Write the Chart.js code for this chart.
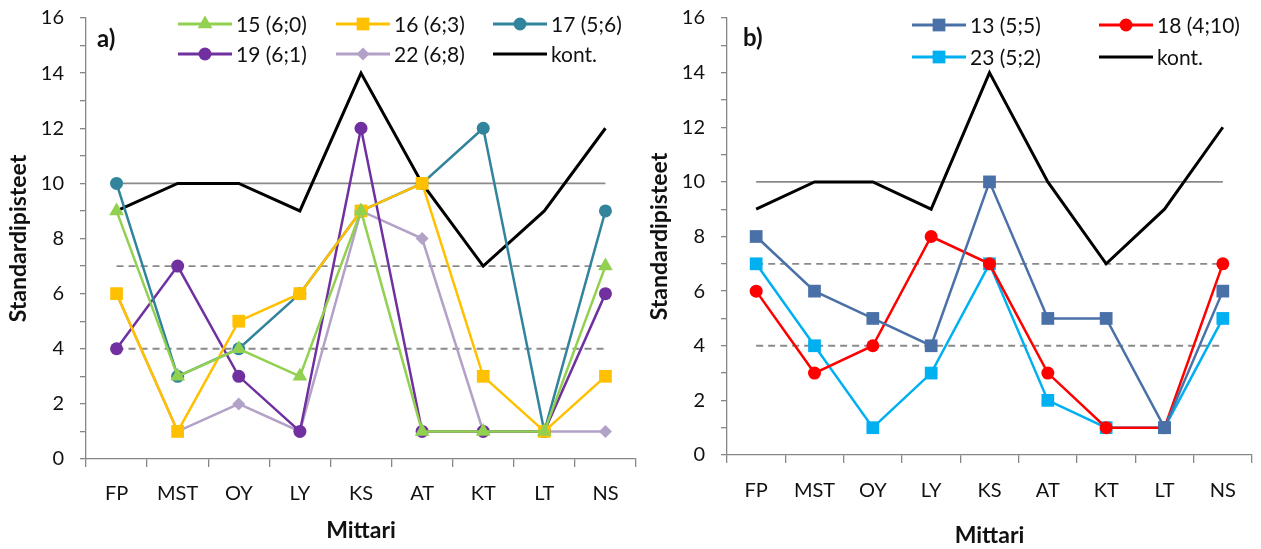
<!DOCTYPE html>
<html>
<head>
<meta charset="utf-8">
<script src="https://cdn.jsdelivr.net/npm/chart.js@4"></script>
<style>
  body { margin: 0; background: #fff; width: 1261px; height: 549px; position: relative; overflow: hidden; }
  .box { position: absolute; top: 0; height: 549px; }
</style>
</head>
<body>
<div class="box" style="left:0;width:645px"><canvas id="chartA" width="645" height="549"></canvas></div>
<div class="box" style="left:640px;width:621px"><canvas id="chartB" width="621" height="549"></canvas></div>
<script>
// mittarit (x-akseli)
const mittarit = ['FP', 'MST', 'OY', 'LY', 'KS', 'AT', 'KT', 'LT', 'NS'];

// kontrolliryhmä
const kont = [9, 10, 10, 9, 14, 10, 7, 9, 12];

// a) lapset
const s15 = [9, 3, 4, 3, 9, 1, 1, 1, 7];
const s16 = [6, 1, 5, 6, 9, 10, 3, 1, 3];
const s17 = [10, 3, 4, 6, 9, 10, 12, 1, 9];
const s19 = [4, 7, 3, 1, 12, 1, 1, 1, 6];
const s22 = [6, 1, 2, 1, 9, 8, 1, 1, 1];

// b) lapset
const s13 = [8, 6, 5, 4, 10, 5, 5, 1, 6];
const s18 = [6, 3, 4, 8, 7, 3, 1, 1, 7];
const s23 = [7, 4, 1, 3, 7, 2, 1, 1, 5];

// viiteviivat
const raja10 = [10, 10, 10, 10, 10, 10, 10, 10, 10];
const raja7 = [7, 7, 7, 7, 7, 7, 7, 7, 7];
const raja4 = [4, 4, 4, 4, 4, 4, 4, 4, 4];

const yTicks = [0, 2, 4, 6, 8, 10, 12, 14, 16];

const FONT = 'Lato';
const TXT = '#111';
const AXIS = '#868686';

// sama muoto kuin Chart.js:n pisteissä
function marker(ctx, style, x, y, r, color) {
  ctx.fillStyle = color;
  ctx.beginPath();
  if (style === 'circle') {
    ctx.arc(x, y, r, 0, Math.PI * 2);
  } else if (style === 'rect') {
    const h = r * Math.SQRT1_2;
    ctx.rect(x - h, y - h, 2 * h, 2 * h);
  } else if (style === 'triangle') {
    let a = 0;
    ctx.moveTo(x + Math.sin(a) * r, y - Math.cos(a) * r);
    a += Math.PI * 2 / 3;
    ctx.lineTo(x + Math.sin(a) * r, y - Math.cos(a) * r);
    a += Math.PI * 2 / 3;
    ctx.lineTo(x + Math.sin(a) * r, y - Math.cos(a) * r);
    ctx.closePath();
  } else if (style === 'rectRot') {
    ctx.moveTo(x, y - r);
    ctx.lineTo(x + r, y);
    ctx.lineTo(x, y + r);
    ctx.lineTo(x - r, y);
    ctx.closePath();
  }
  ctx.fill();
}

// selite piirretään kuva-alueen sisään
const sisaLegenda = {
  id: 'sisaLegenda',
  afterDraw(chart, args, opts) {
    const ctx = chart.ctx;
    ctx.save();
    ctx.textBaseline = 'middle';
    ctx.fillStyle = TXT;
    ctx.font = 'bold 24px ' + FONT;
    ctx.fillText(opts.label, opts.labelX, opts.labelY);
    ctx.font = '21px ' + FONT;
    chart.data.datasets.forEach(ds => {
      if (!ds.pos) return;
      const x0 = opts.cols[ds.pos[0]];
      const y = opts.rows[ds.pos[1]];
      ctx.strokeStyle = ds.borderColor;
      ctx.lineWidth = 3;
      ctx.beginPath();
      ctx.moveTo(x0, y);
      ctx.lineTo(x0 + 54, y);
      ctx.stroke();
      if (ds.pointRadius > 0) marker(ctx, ds.pointStyle, x0 + 27, y, ds.pointRadius, ds.borderColor);
      ctx.fillStyle = TXT;
      ctx.fillText(ds.label, x0 + 58, y + 1);
    });
    ctx.restore();
  }
};

function sarja(label, data, color, style, r, pos) {
  return {
    label, data, pos,
    borderColor: color, backgroundColor: color,
    borderWidth: r > 0 ? 2.5 : 3, pointStyle: style, pointRadius: r,
    pointBorderWidth: 0, pointBackgroundColor: color,
    tension: 0, order: 1
  };
}

function viiva(data, dashed) {
  return {
    label: '', data,
    borderColor: '#8a8a8a', borderWidth: 1.8,
    borderDash: dashed ? [7, 5] : [],
    pointRadius: 0, order: 10
  };
}

function piirra(id, datasets, legend, dims) {
  new Chart(document.getElementById(id), {
    type: 'line',
    data: { labels: mittarit, datasets },
    plugins: [sisaLegenda],
    options: {
      responsive: false,
      animation: false,
      layout: { padding: { top: 18, right: dims.padR, left: dims.padL, bottom: dims.padB } },
      plugins: {
        legend: { display: false },
        tooltip: { enabled: false },
        sisaLegenda: legend
      },
      scales: {
        x: {
          type: 'category',
          offset: true,
          grid: { offset: true, drawOnChartArea: false, tickLength: 8, color: AXIS, lineWidth: 1.3 },
          border: { color: AXIS, width: 1.3 },
          ticks: { color: TXT, font: { family: FONT, size: 20 }, padding: dims.xPad, maxRotation: 0 },
          title: { display: true, text: 'Mittari', color: TXT, font: { family: FONT, size: 23, weight: 'bold' }, padding: 0 },
          afterFit(s) { s.height = dims.xH; }
        },
        y: {
          min: 0, max: 16,
          afterBuildTicks(s) { s.ticks = []; for (let v = 0; v <= 16; v++) s.ticks.push({ value: v }); },
          ticks: {
            autoSkip: false, color: TXT, font: { family: FONT, size: 20 }, padding: 16,
            callback: v => yTicks.includes(v) ? String(v) : ''
          },
          grid: { drawOnChartArea: false, tickLength: 6, color: AXIS, lineWidth: 1.3 },
          border: { color: AXIS, width: 1.3 },
          title: { display: true, text: 'Standardipisteet', color: TXT, font: { family: FONT, size: 23, weight: 'bold' }, padding: 0 },
          afterFit(s) {
            s.width = dims.yW;
            s.paddingTop = 12;
            s.paddingBottom = 12;
          }
        }
      }
    }
  });
}

piirra('chartA', [
  sarja('15 (6;0)', s15, '#92D050', 'triangle', 8.5, [0, 0]),
  sarja('16 (6;3)', s16, '#FFC000', 'rect', 9, [1, 0]),
  sarja('17 (5;6)', s17, '#31849B', 'circle', 6.5, [2, 0]),
  sarja('19 (6;1)', s19, '#7030A0', 'circle', 6.5, [0, 1]),
  sarja('22 (6;8)', s22, '#B3A2C7', 'rectRot', 6.5, [1, 1]),
  sarja('kont.', kont, '#000000', 'circle', 0, [2, 1]),
  viiva(raja10, false), viiva(raja7, true), viiva(raja4, true)
], { label: 'a)', labelX: 97, labelY: 39, cols: [178, 336, 493], rows: [24, 54] },
   { padL: 5, padR: 7, padB: 5, yW: 81, xH: 85, xPad: 15 });

piirra('chartB', [
  sarja('13 (5;5)', s13, '#4A70A8', 'rect', 9, [0, 0]),
  sarja('18 (4;10)', s18, '#FF0000', 'circle', 6.5, [1, 0]),
  sarja('23 (5;2)', s23, '#00B0F0', 'rect', 9, [0, 1]),
  sarja('kont.', kont, '#000000', 'circle', 0, [1, 1]),
  viiva(raja10, false), viiva(raja7, true), viiva(raja4, true)
], { label: 'b)', labelX: 103, labelY: 38, cols: [272, 459], rows: [25, 57] },
   { padL: 6, padR: 8, padB: 0, yW: 81, xH: 94, xPad: 16 });
</script>
</body>
</html>
